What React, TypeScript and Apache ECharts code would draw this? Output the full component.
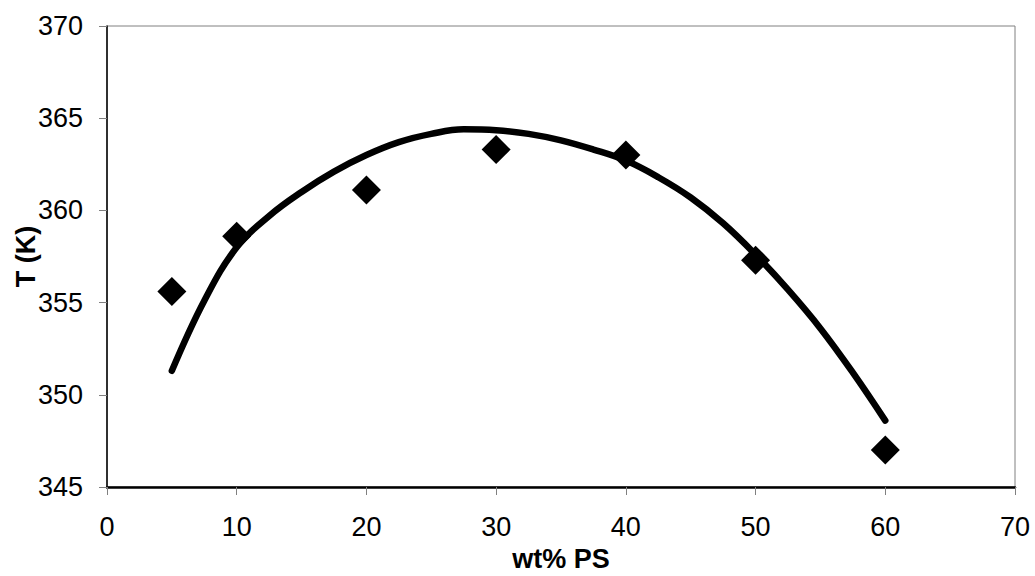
import React, { useEffect, useRef } from "react";
import * as echarts from "echarts";

const pointX = [5, 10, 20, 30, 40, 50, 60];
const pointY = [355.6, 358.6, 361.1, 363.3, 363.0, 357.3, 347.0];

const curveX = [5, 7.5, 10, 12.5, 15, 17.5, 20, 22.5, 25, 27.5, 30, 32.5, 35, 37.5, 40, 42.5, 45, 47.5, 50, 52.5, 55, 57.5, 60];
const curveY = [351.3, 355.1, 358.0, 359.7, 361.0, 362.1, 363.0, 363.7, 364.15, 364.4, 364.35, 364.15, 363.8, 363.3, 362.7, 361.8, 360.7, 359.3, 357.6, 355.7, 353.6, 351.2, 348.6];

const xTitle = "wt% PS";
const yTitle = "T (K)";

export default function App() {
  const ref = useRef<HTMLDivElement>(null);
  useEffect(() => {
    document.body.style.margin = "0";
    const chart = echarts.init(ref.current!, null, { renderer: "svg" });
    const font = "Arial, 'Liberation Sans', sans-serif";
    chart.setOption({
      animation: false,
      backgroundColor: "#ffffff",
      grid: {
        left: 107,
        right: 20,
        top: 26,
        bottom: 89,
        show: true,
        borderColor: "#808080",
        borderWidth: 1,
        containLabel: false,
        outerBoundsMode: "none",
      },
      xAxis: {
        type: "value",
        min: 0,
        max: 70,
        interval: 10,
        name: xTitle,
        nameLocation: "middle",
        nameGap: 58,
        nameMoveOverlap: false,
        nameTextStyle: { fontFamily: font, fontSize: 27, fontWeight: "bold", color: "#000" },
        axisLine: { show: true, lineStyle: { color: "#000", width: 2.5 } },
        axisTick: { show: true, inside: false, length: 8, lineStyle: { color: "#808080", width: 1 } },
        axisLabel: { fontFamily: font, fontSize: 27, color: "#000", margin: 26 },
        splitLine: { show: false },
      },
      yAxis: {
        type: "value",
        min: 345,
        max: 370,
        interval: 5,
        name: yTitle,
        nameLocation: "middle",
        nameGap: 68,
        nameMoveOverlap: false,
        nameRotate: 90,
        nameTextStyle: { fontFamily: font, fontSize: 27, fontWeight: "bold", color: "#000" },
        axisLine: { show: true, lineStyle: { color: "#000", width: 1.5 } },
        axisTick: { show: true, inside: false, length: 8, lineStyle: { color: "#808080", width: 1 } },
        axisLabel: { fontFamily: font, fontSize: 27, color: "#000", margin: 24 },
        splitLine: { show: false },
      },
      series: [
        {
          type: "line",
          data: curveX.map((x, i) => [x, curveY[i]]),
          smooth: 0.4,
          showSymbol: false,
          symbol: "none",
          lineStyle: { color: "#000", width: 6.5, cap: "round", join: "round" },
          z: 2,
        },
        {
          type: "scatter",
          data: pointX.map((x, i) => [x, pointY[i]]),
          symbol: "diamond",
          symbolSize: 29,
          itemStyle: { color: "#000", opacity: 1 },
          z: 3,
        },
      ],
    });
    return () => chart.dispose();
  }, []);
  return <div ref={ref} style={{ position: "fixed", left: 0, top: 0, width: 1035, height: 576 }} />;
}
